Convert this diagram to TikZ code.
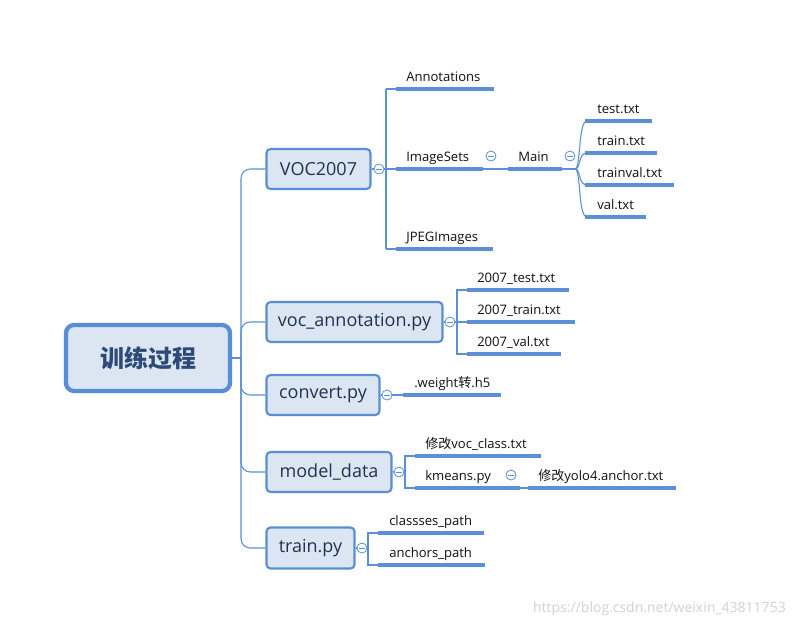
\documentclass[tikz,border=0pt]{standalone}
\usepackage{fontspec}
\setmainfont{Open Sans}
\newfontfamily\cjk{Noto Sans CJK SC}
\begin{document}
\begin{tikzpicture}[x=0.75pt,y=-0.75pt,
  lc/.style={draw=lineblue},
  conn/.style={lc,line width=0.8pt,rounded corners=7pt},
  ul/.style={lc,line width=2.4pt},
  box/.style={draw=boxblue,fill=boxfill,line width=1.6pt,rounded corners=3pt,inner sep=0pt,text=boxtext,font=\fontsize{13.5}{15}\selectfont},
  leaf/.style={anchor=base west,inner sep=0pt,text=leaftext,font=\fontsize{9.8}{11}\selectfont},
  col/.style={circle,draw=boxblue,fill=white,line width=0.6pt,minimum size=7.5pt,inner sep=0pt,
     path picture={\draw[boxblue,line width=0.6pt] ([xshift=-2pt]path picture bounding box.center) -- ([xshift=2pt]path picture bounding box.center);}}
]
\definecolor{lineblue}{HTML}{5B8FD6}
\definecolor{boxblue}{HTML}{5A8ED4}
\definecolor{boxfill}{HTML}{DCE6F3}
\definecolor{boxtext}{HTML}{1F3350}
\definecolor{leaftext}{HTML}{111111}
\definecolor{roottext}{HTML}{2E4A78}
\fill[white] (0,0) rectangle (794,626);
\useasboundingbox (0,0) rectangle (794,626);

% root
\node[box,line width=3.2pt,rounded corners=6pt,minimum width=164*0.75pt,minimum height=66*0.75pt,
  font=\cjk\bfseries\fontsize{18}{20}\selectfont,text=roottext] (root) at (148,358) {训练过程};

\node[box,minimum width=104*0.75pt,minimum height=40*0.75pt] (voc) at (318.5,169) {VOC2007};
\node[box,minimum width=176*0.75pt,minimum height=40*0.75pt] (va) at (354.5,322) {voc\_annotation.py};
\node[box,minimum width=113*0.75pt,minimum height=40*0.75pt] (cv) at (323,395) {convert.py};
\node[box,minimum width=125*0.75pt,minimum height=40*0.75pt] (md) at (329,472) {model\_data};
\node[box,minimum width=88*0.75pt,minimum height=41*0.75pt] (tr) at (310.5,548) {train.py};

\coordinate (j) at (241,358);
\draw[conn] (root.east) -- (j);
\foreach \b in {voc,va,cv,md,tr} \draw[conn] (j) |- (\b.west);

% collapse circles
\node[col] (cvoc) at (379,169) {};
\node[col] (cva) at (450,322) {};
\node[col] (ccv) at (387,395) {};
\node[col] (cmd) at (399,472) {};
\node[col] (ctr) at (362,548) {};
\node[col] (cis) at (491,156) {};
\node[col] (cmain) at (570,156) {};
\node[col] (ckm) at (511,475) {};
\draw[conn] (voc.east) -- (cvoc);
\draw[conn] (va.east) -- (cva);
\draw[conn] (cv.east) -- (ccv);
\draw[conn] (md.east) -- (cmd);
\draw[conn] (tr.east) -- (ctr);

% VOC2007 children
\coordinate (v0) at (386,169);
\draw[conn] (cvoc) -- (v0);
\draw[conn,rounded corners=0pt] (386,89) -- (386,249);
\foreach \y in {89,169,249} \draw[conn,rounded corners=0pt] (386,\y) -- (396,\y);
\node[leaf] (ann) at (406,81) {Annotations}; \draw[ul] (396,89) -- (494,89);
\node[leaf] (is) at (406,161) {ImageSets}; \draw[ul] (396,169) -- (483,169);
\node[leaf] (jp) at (406,241) {JPEGImages}; \draw[ul] (396,249) -- (493,249);
\draw[conn] (483,169) -- (508,169);
\node[leaf] (main) at (518,161) {Main}; \draw[ul] (508,169) -- (562,169);
\draw[conn] (562,169) -- (575,169);
\foreach \y/\e/\t [count=\i] in {121/652/test.txt,153/657/train.txt,185/674/trainval.txt,217/646/val.txt}{
  \draw[lc,line width=0.8pt] (575,169) .. controls (581,169) and (578,\y) .. (587,\y);
  \node[leaf] (m\i) at (597,\y-8) {\t};
  \draw[ul] (585,\y) -- (\e,\y);
}

% voc_annotation children
\draw[conn] (cva) -- (457,322);
\draw[conn,rounded corners=0pt] (467,290) -| (457,354) -- (467,354);
\draw[conn] (457,322) -- (467,322);
\foreach \y/\e/\t [count=\i] in {290/569/2007\_test.txt,322/575/2007\_train.txt,354/561/2007\_val.txt}{
  \node[leaf] (a\i) at (477,\y-8) {\t};
  \draw[ul] (467,\y) -- (\e,\y);
}

% convert
\draw[conn] (ccv) -- (403,395);
\node[leaf] (w) at (414,387) {.weight{\cjk 转}.h5};
\draw[ul] (403,395) -- (501,395);

% model_data
\draw[conn] (cmd) -- (405,472);
\draw[conn,rounded corners=0pt] (415,456) -| (405,488) -- (415,488);
\node[leaf] (mv) at (425,448) {{\cjk 修改}voc\_class.txt};
\draw[ul] (415,456) -- (541,456);
\node[leaf] (km) at (425,480) {kmeans.py};
\draw[ul] (415,488) -- (520,488);
\draw[conn] (520,488) -- (528,488);
\node[leaf] (ya) at (538,480) {{\cjk 修改}yolo4.anchor.txt};
\draw[ul] (528,488) -- (676,488);

% train
\draw[conn] (ctr) -- (368,548);
\draw[conn,rounded corners=0pt] (378,533) -| (368,565) -- (378,565);
\node[leaf] (cp) at (389,525) {classses\_path};
\draw[ul] (378,533) -- (484,533);
\node[leaf] (ap) at (389,557) {anchors\_path};
\draw[ul] (378,565) -- (485,565);

\node[anchor=base east,inner sep=0pt,text=gray!35,font=\fontsize{10.5}{12}\selectfont] (wm) at (786,612) {https://blog.csdn.net/weixin\_43811753};
\end{tikzpicture}
\end{document}
